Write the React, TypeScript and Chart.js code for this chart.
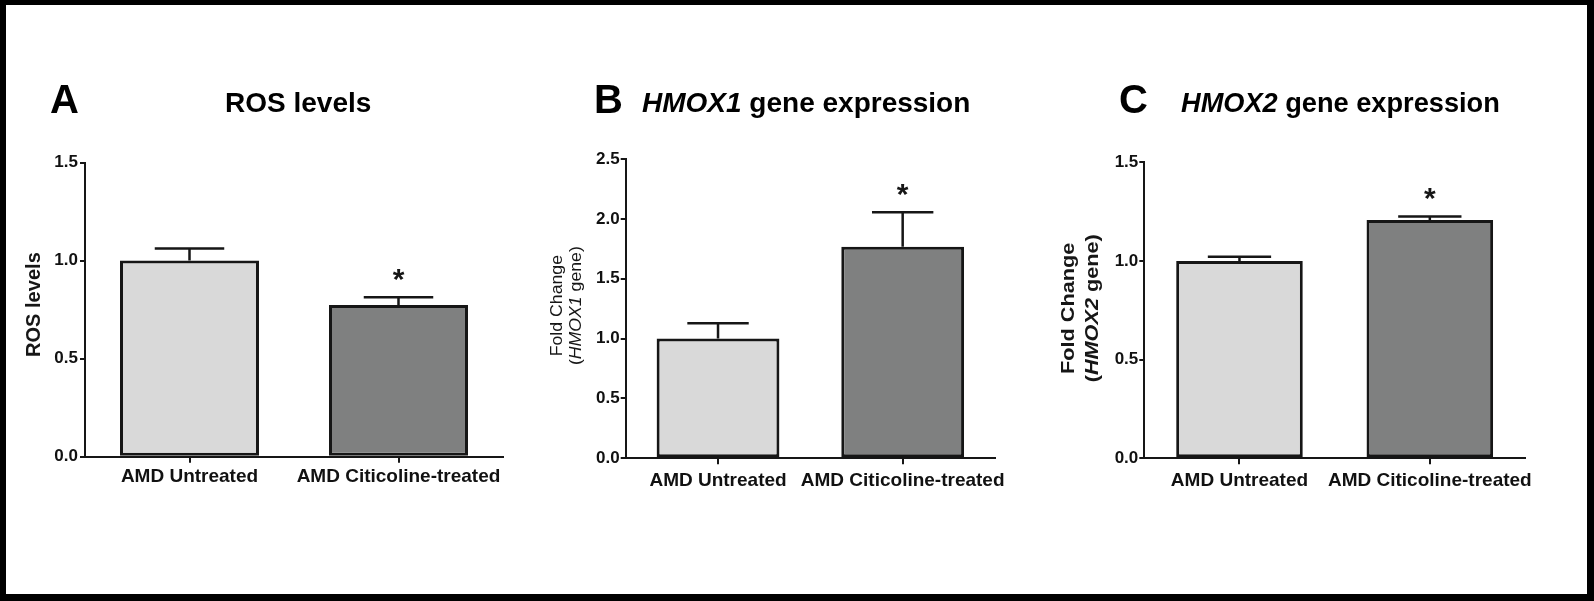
import React, { useEffect, useRef } from "react";
import { Chart, registerables } from "chart.js";

Chart.register(...registerables);

// ---------- data ----------
const categories = ["AMD Untreated", "AMD Citicoline-treated"];
const rosMeans = [1.0, 0.774];
const rosErrors = [0.061, 0.039];
const hmox1Means = [1.0, 1.768];
const hmox1Errors = [0.128, 0.287];
const hmox2Means = [1.0, 1.208];
const hmox2Errors = [0.022, 0.017];
const significance = ["", "*"];
const rosAxisMax = 1.5;
const hmox1AxisMax = 2.5;
const hmox2AxisMax = 1.5;
const tickStep = 0.5;

// ---------- styles ----------
const FONT = '"Liberation Sans", Arial, Helvetica, sans-serif';
const INK = "#161616";
const barFills = ["#d9d9d9", "#7f8080"];

type Run = { text: string; italic?: boolean };

type PanelDef = {
  canvas: { left: number; top: number; width: number; height: number };
  area: { l: number; t: number; r: number; b: number };
  means: number[];
  errors: number[];
  yMax: number;
  letter: string;
  letterX: number;
  titleX: number;
  titleSize: number;
  titleRuns: Run[];
  yTitleLines: Run[][];
  yTitleXs: number[];
  yTitleShift: number;
  yTitleSize: number;
  yTitleWeight: string;
  yTitleStretch: number;
  xPad: number;
  yPad: number;
};

const panels: PanelDef[] = [
  {
    canvas: { left: 6, top: 5, width: 524, height: 589 },
    area: { l: 85, t: 162.5, r: 503, b: 456.7 },
    means: rosMeans,
    errors: rosErrors,
    yMax: rosAxisMax,
    letter: "A",
    letterX: 50,
    titleX: 225,
    titleSize: 28,
    titleRuns: [{ text: "ROS levels" }],
    yTitleLines: [[{ text: "ROS levels" }]],
    yTitleXs: [34.5],
    yTitleShift: -5,
    yTitleSize: 19.5,
    yTitleWeight: "bold",
    yTitleStretch: 1.03,
    xPad: 3,
    yPad: 2,
  },
  {
    canvas: { left: 530, top: 5, width: 510, height: 589 },
    area: { l: 625.7, t: 159, r: 995, b: 458.3 },
    means: hmox1Means,
    errors: hmox1Errors,
    yMax: hmox1AxisMax,
    letter: "B",
    letterX: 594,
    titleX: 642,
    titleSize: 28,
    titleRuns: [{ text: "HMOX1", italic: true }, { text: " gene expression" }],
    yTitleLines: [
      [{ text: "Fold Change" }],
      [{ text: "(" }, { text: "HMOX1", italic: true }, { text: " gene)" }],
    ],
    yTitleXs: [557, 576],
    yTitleShift: -3,
    yTitleSize: 17,
    yTitleWeight: "normal",
    yTitleStretch: 1.04,
    xPad: 5.5,
    yPad: 1,
  },
  {
    canvas: { left: 1040, top: 5, width: 547, height: 589 },
    area: { l: 1144.3, t: 162.3, r: 1525, b: 458.3 },
    means: hmox2Means,
    errors: hmox2Errors,
    yMax: hmox2AxisMax,
    letter: "C",
    letterX: 1119,
    titleX: 1181,
    titleSize: 27.2,
    titleRuns: [{ text: "HMOX2", italic: true }, { text: " gene expression" }],
    yTitleLines: [
      [{ text: "Fold Change" }],
      [{ text: "(" }, { text: "HMOX2", italic: true }, { text: " gene)" }],
    ],
    yTitleXs: [1069, 1093],
    yTitleShift: -2,
    yTitleSize: 19,
    yTitleWeight: "bold",
    yTitleStretch: 1.14,
    xPad: 5.5,
    yPad: 1,
  },
];

function fontStr(size: number, weight: string, italic?: boolean) {
  return `${italic ? "italic " : ""}${weight} ${size}px ${FONT}`;
}

function drawRuns(
  ctx: CanvasRenderingContext2D,
  runs: Run[],
  size: number,
  weight: string,
  x: number,
  y: number,
  align: "left" | "center",
  stretch: number
) {
  const widths = runs.map((r) => {
    ctx.font = fontStr(size, weight, r.italic);
    return ctx.measureText(r.text).width;
  });
  const total = widths.reduce((a, b) => a + b, 0);
  ctx.save();
  ctx.translate(x, y);
  ctx.scale(stretch, 1);
  let cx = align === "center" ? -total / 2 : 0;
  ctx.textAlign = "left";
  runs.forEach((r, i) => {
    ctx.font = fontStr(size, weight, r.italic);
    ctx.fillText(r.text, cx, 0);
    cx += widths[i];
  });
  ctx.restore();
}

function Panel({ def }: { def: PanelDef }) {
  const ref = useRef<HTMLCanvasElement | null>(null);

  useEffect(() => {
    const canvas = ref.current;
    if (!canvas) return;
    const c = def.canvas;
    const ox = c.left;
    const oy = c.top;

    const decor = {
      id: "decor" + def.letter,
      afterDatasetsDraw(chart: any) {
        const ctx: CanvasRenderingContext2D = chart.ctx;
        const yScale = chart.scales.y;
        const meta = chart.getDatasetMeta(0);
        ctx.save();
        ctx.strokeStyle = INK;
        ctx.lineWidth = 2.5;
        ctx.lineCap = "butt";
        meta.data.forEach((bar: any, i: number) => {
          const p = bar.getProps(["x", "y", "width"], true);
          const yTop = yScale.getPixelForValue(def.means[i] + def.errors[i]);
          const half = p.width / 4;
          ctx.beginPath();
          ctx.moveTo(p.x, p.y);
          ctx.lineTo(p.x, yTop);
          ctx.moveTo(p.x - half, yTop);
          ctx.lineTo(p.x + half, yTop);
          ctx.stroke();
          if (significance[i]) {
            const size = 30;
            ctx.fillStyle = INK;
            ctx.font = fontStr(size, "bold");
            ctx.textAlign = "center";
            ctx.textBaseline = "alphabetic";
            ctx.fillText(significance[i], p.x, yTop - 25.5 + 0.57 * size);
          }
        });
        ctx.restore();
      },
      afterDraw(chart: any) {
        const ctx: CanvasRenderingContext2D = chart.ctx;
        ctx.save();
        ctx.fillStyle = "#000";
        ctx.textBaseline = "alphabetic";
        // panel letter
        drawRuns(ctx, [{ text: def.letter }], 40, "bold", def.letterX - ox, 113 - oy, "left", 1);
        // title
        drawRuns(ctx, def.titleRuns, def.titleSize, "bold", def.titleX - ox, 111.7 - oy, "left", 1);
        // y axis title (rotated)
        const cy = (def.area.t + def.area.b) / 2 + def.yTitleShift - oy;
        ctx.fillStyle = INK;
        def.yTitleLines.forEach((line, li) => {
          ctx.save();
          ctx.translate(def.yTitleXs[li] - ox, cy);
          ctx.rotate(-Math.PI / 2);
          ctx.textBaseline = "middle";
          drawRuns(ctx, line, def.yTitleSize, def.yTitleWeight, 0, 0, "center", def.yTitleStretch);
          ctx.restore();
        });
        ctx.restore();
      },
    };

    const chart = new Chart(canvas, {
      type: "bar",
      data: {
        labels: categories,
        datasets: [
          {
            data: def.means,
            backgroundColor: barFills,
            borderColor: INK,
            borderWidth: 3,
            borderSkipped: false,
            barPercentage: 0.665,
            categoryPercentage: 1,
          },
        ],
      },
      options: {
        responsive: false,
        maintainAspectRatio: false,
        animation: false,
        events: [],
        layout: {
          padding: {
            left: 0,
            top: def.area.t - oy,
            right: c.left + c.width - def.area.r,
            bottom: 0,
          },
        },
        plugins: {
          legend: { display: false },
          tooltip: { enabled: false },
          title: { display: false },
        },
        scales: {
          x: {
            type: "category",
            offset: true,
            afterFit: (s: any) => {
              s.height = c.top + c.height - def.area.b;
            },
            grid: {
              offset: false,
              drawOnChartArea: false,
              drawTicks: true,
              tickLength: 6,
              color: INK,
              lineWidth: 2,
            },
            border: { display: true, color: INK, width: 2 },
            ticks: {
              color: "#111",
              padding: def.xPad,
              font: { family: FONT, size: 19, weight: "bold" },
              maxRotation: 0,
              autoSkip: false,
            },
          },
          y: {
            min: 0,
            max: def.yMax,
            afterFit: (s: any) => {
              s.width = def.area.l - ox;
            },
            grid: {
              drawOnChartArea: false,
              drawTicks: true,
              tickLength: 5,
              color: INK,
              lineWidth: 2,
            },
            border: { display: true, color: INK, width: 2 },
            ticks: {
              stepSize: tickStep,
              color: "#111",
              padding: def.yPad,
              font: { family: FONT, size: 17, weight: "bold" },
              callback: (v: any) => Number(v).toFixed(1),
            },
          },
        },
      },
      plugins: [decor],
    } as any);

    return () => chart.destroy();
  }, [def]);

  const c = def.canvas;
  return (
    <canvas
      ref={ref}
      width={c.width}
      height={c.height}
      style={{
        position: "absolute",
        left: c.left,
        top: c.top,
        width: c.width,
        height: c.height,
      }}
    />
  );
}

export default function App() {
  return (
    <div
      style={{
        position: "absolute",
        left: 0,
        top: 0,
        width: 1594,
        height: 601,
        background: "#000",
        overflow: "hidden",
      }}
    >
      <div
        style={{
          position: "absolute",
          left: 6,
          top: 5,
          width: 1581,
          height: 589,
          background: "#fff",
        }}
      />
      {panels.map((p) => (
        <Panel key={p.letter} def={p} />
      ))}
    </div>
  );
}
